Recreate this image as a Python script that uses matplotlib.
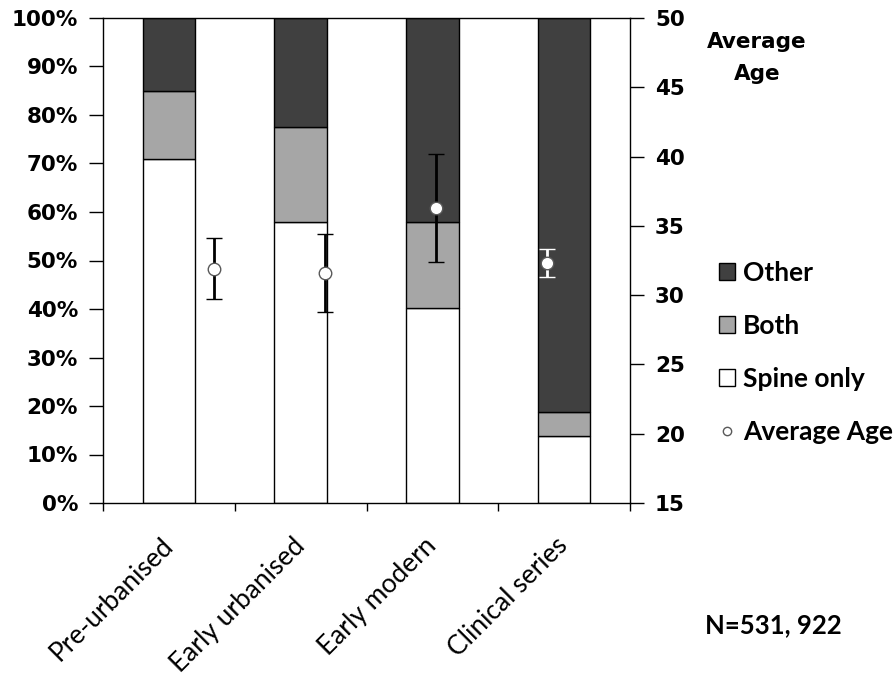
import numpy as np
import matplotlib
matplotlib.use("Agg")
import matplotlib.pyplot as plt
from matplotlib.patches import Patch
from matplotlib.lines import Line2D

# share of lesions by location, per period (percent of each group)
categories = ["Pre-urbanised", "Early urbanised", "Early modern", "Clinical series"]
spine_only = [71.0, 58.0, 40.2, 13.8]
both = [14.0, 19.5, 17.7, 5.0]
other = [15.0, 22.5, 42.1, 81.2]

# average age with error range, right axis
avg_age = [31.9, 31.6, 36.3, 32.3]
age_err = [2.2, 2.8, 3.9, 1.0]

pct_ticks = list(range(0, 101, 10))
age_ticks = list(range(15, 51, 5))

dark = "#404040"
mid = "#a6a6a6"
err_colors = ["black", "black", "black", "white"]

tick_font = {"family": "DejaVu Sans", "weight": "bold", "size": 15.5}
label_font = {"family": "Lato", "size": 19}
legend_font = {"family": "Lato", "weight": "bold", "size": 19}

fig = plt.figure(figsize=(8.94, 6.75), dpi=100)
rect = [103 / 894, 1 - 503 / 675, 527 / 894, 485 / 675]
ax = fig.add_axes(rect)

x = np.arange(len(categories))
w = 0.4
ax.bar(x, spine_only, w, color="white", edgecolor="black", linewidth=1, zorder=2)
ax.bar(x, both, w, bottom=spine_only, color=mid, edgecolor="black", linewidth=1, zorder=2)
base = np.array(spine_only) + np.array(both)
ax.bar(x, other, w, bottom=base, color=dark, edgecolor="black", linewidth=1, zorder=2)

ax.set_xlim(-0.5, len(categories) - 0.5)
ax.set_ylim(0, 100)
ax.set_yticks(pct_ticks)
ax.set_yticklabels([f"{v}%" for v in pct_ticks], fontdict=tick_font)
ax.tick_params(axis="y", direction="out", length=10, width=1, pad=8)

# category boundaries get the tick marks, names sit between them
ax.set_xticks(np.arange(-0.5, len(categories), 1.0))
ax.set_xticklabels([])
ax.tick_params(axis="x", which="major", direction="out", length=6, width=1)
ax.set_xticks(x, minor=True)
ax.set_xticklabels(categories, minor=True, fontdict=label_font)
ax.tick_params(axis="x", which="minor", length=0, pad=28)
for lbl in ax.get_xticklabels(minor=True):
    lbl.set_rotation(45)
    lbl.set_ha("right")
    lbl.set_va("center")
    lbl.set_rotation_mode("anchor")

for s in ax.spines.values():
    s.set_linewidth(1)
    s.set_color("black")

# second axes on top for the average age points
ax2 = fig.add_axes(rect, frameon=False)
ax2.set_xlim(0, 4.75)
ax2.set_ylim(15, 50)
ax2.xaxis.set_visible(False)
ax2.yaxis.tick_right()
ax2.set_yticks(age_ticks)
ax2.set_yticklabels([str(v) for v in age_ticks], fontdict=tick_font)
ax2.tick_params(axis="y", direction="out", length=10, width=1, pad=8)

age_x = np.arange(1, len(avg_age) + 1)
for i in range(len(avg_age)):
    ax2.errorbar(age_x[i], avg_age[i], yerr=age_err[i], fmt="o", ms=9,
                 mfc="white", mec="#595959", mew=1, ecolor=err_colors[i],
                 elinewidth=2, capsize=6, capthick=2, zorder=3)

fig.text(757 / 894, 1 - 32 / 675, "Average\nAge", ha="center", va="top",
         family="DejaVu Sans", weight="bold", size=15.5, linespacing=1.75)

handles = [
    Patch(facecolor=dark, edgecolor="black"),
    Patch(facecolor=mid, edgecolor="black"),
    Patch(facecolor="white", edgecolor="black"),
    Line2D([], [], marker="o", linestyle="", ms=6, mfc="white", mec="#595959"),
]
fig.legend(handles, ["Other", "Both", "Spine only", "Average Age"],
           loc="upper left", bbox_to_anchor=(719 / 894, 1 - 261 / 675),
           frameon=False, prop=legend_font, handlelength=0.6, handleheight=0.6,
           handletextpad=0.3, labelspacing=1.1, borderpad=0, borderaxespad=0)

fig.text(705 / 894, 1 - 633 / 675, "N=531, 922", ha="left", va="baseline",
         family="Lato", weight="bold", size=18.5)

fig.savefig("out.png", dpi=100)
